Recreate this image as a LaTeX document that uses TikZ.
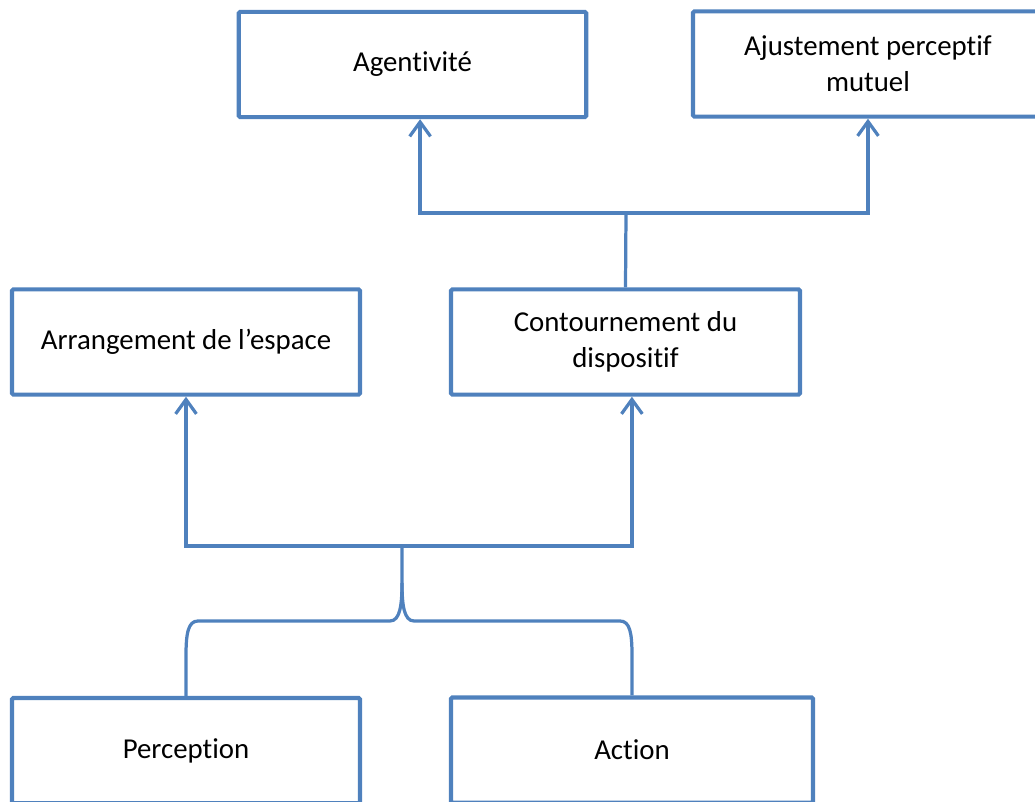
\documentclass[tikz,border=0pt]{standalone}
\usepackage{fontspec}
\setmainfont{Carlito}[Ligatures={NoCommon}]
\usetikzlibrary{arrows.meta, positioning, calc}
\definecolor{boxblue}{RGB}{79,129,189}

\begin{document}
\begin{tikzpicture}[
  x=0.025cm, y=-0.025cm,
  box/.style={rectangle, draw=boxblue, line width=3pt, fill=white, rounded corners=1pt, minimum height=2.63cm, align=center, inner sep=2pt, font=\fontsize{20.5}{25.5}\selectfont},
  link/.style={draw=boxblue, line width=2.3pt},
  arrow/.style={link, -{Straight Barb[length=3.6mm, width=5.2mm]}},
]
\clip (0,0) rectangle (1035,802);
\node[box, minimum width=8.68cm] (agent) at (412.5,64.5) {Agentivité};
\node[box, minimum width=8.75cm] (ajust) at (868,64) {Ajustement perceptif\\mutuel};
\node[box, minimum width=8.7cm] (arr) at (186,342) {Arrangement de l’espace};
\node[box, minimum width=8.72cm] (cont) at (625.5,342) {Contournement du\\dispositif};
\node[box, minimum width=8.7cm] (per) at (186,750.5) {Perception};
\node[box, minimum width=9.05cm] (act) at (632,750) {Action};
\coordinate (top) at (626,213);
\coordinate (join) at (402,546);
\coordinate (brace) at (402,621);
\draw[link] (cont.north) -- (top);
\draw[arrow] (top) -| ([xshift=0.19cm]agent.south);
\draw[arrow] (top) -| (ajust.south);
\draw[arrow] (join) -| (arr.south);
\draw[arrow] (join) -| ([xshift=0.16cm]cont.south);
\draw[link] (per.north) -- ++(0,-40) .. controls +(0,-22) and +(-10,0) .. ($(per.north |- brace)+(12,0)$) -- ($(brace)+(-12,0)$) .. controls +(10,0) and +(0,22) .. ($(brace)+(0,-38)$) -- (join);
\draw[link] (act.north) -- ++(0,-40) .. controls +(0,-22) and +(10,0) .. ($(act.north |- brace)+(-12,0)$) -- ($(brace)+(12,0)$) .. controls +(-10,0) and +(0,22) .. ($(brace)+(0,-38)$);
\end{tikzpicture}
\end{document}
